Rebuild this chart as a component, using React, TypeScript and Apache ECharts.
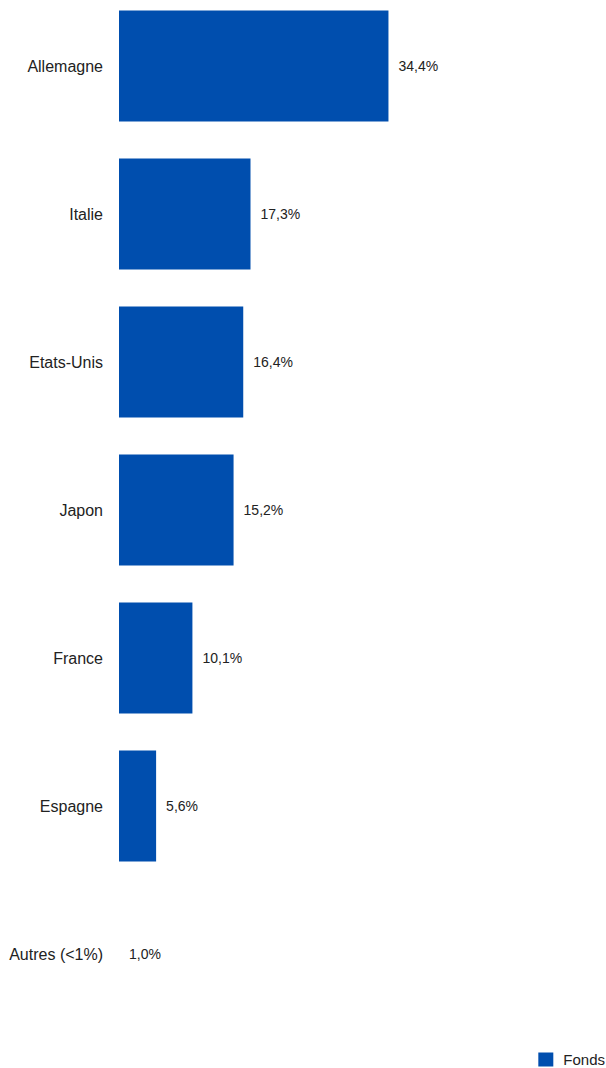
import React, { useEffect, useRef } from "react";
import * as echarts from "echarts";

const categories = ["Allemagne", "Italie", "Etats-Unis", "Japon", "France", "Espagne", "Autres (<1%)"];
const fondsValues = [34.4, 17.3, 16.4, 15.2, 10.1, 5.6, 1.0];
const seriesName = "Fonds";
const barColor = "#004EAE";

export default function App() {
  const ref = useRef<HTMLDivElement>(null);
  useEffect(() => {
    if (!ref.current) return;
    const chart = echarts.init(ref.current, null, { renderer: "svg" });
    chart.setOption({
      animation: false,
      textStyle: { fontFamily: "Liberation Sans, Arial, sans-serif" },
      grid: { left: 119, top: 0, height: 1036, width: 476, containLabel: false },
      xAxis: {
        type: "value",
        min: 1,
        max: 60,
        show: false,
      },
      yAxis: {
        type: "category",
        data: categories,
        inverse: true,
        axisLine: { show: false },
        axisTick: { show: false },
        axisLabel: { margin: 16, fontSize: 16, color: "#222" },
      },
      legend: {
        data: [seriesName],
        top: 1060,
        right: 1,
        padding: 0,
        icon: "rect",
        itemWidth: 15,
        itemHeight: 14,
        textStyle: { fontSize: 15, color: "#222", padding: [0, 0, 0, 5] },
      },
      series: [
        {
          name: seriesName,
          type: "bar",
          data: fondsValues,
          barWidth: 111,
          itemStyle: { color: barColor },
          label: {
            show: true,
            position: "right",
            distance: 10,
            fontSize: 14,
            color: "#222",
            formatter: (p: any) => p.value.toFixed(1).replace(".", ",") + "%",
          },
        },
      ],
    });
    return () => chart.dispose();
  }, []);
  return (
    <div
      ref={ref}
      style={{ position: "fixed", left: 0, top: -8, width: 606, height: 1076, background: "#fff" }}
    />
  );
}
